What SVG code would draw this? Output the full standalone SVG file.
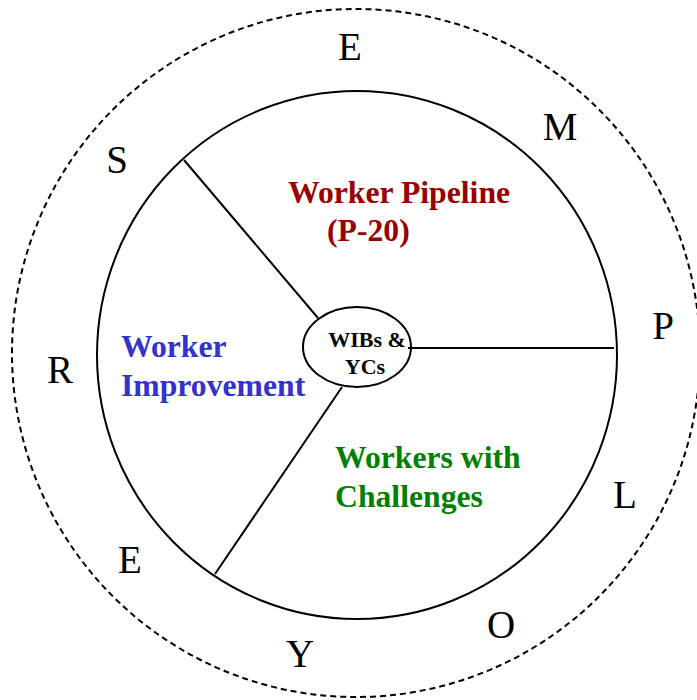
<svg xmlns="http://www.w3.org/2000/svg" width="697" height="700" viewBox="0 0 697 700">
  <style>
    .ring { fill: none; stroke: #000; stroke-width: 2; }
    .dash { fill: none; stroke: #000; stroke-width: 2; stroke-dasharray: 6 4; }
    .spoke { stroke: #000; stroke-width: 2; fill: none; }
    .letter { font-family: "Liberation Serif", "Times New Roman", serif; font-size: 39px; fill: #000; text-anchor: middle; }
    .sector { font-family: "Liberation Serif", "Times New Roman", serif; font-size: 31.7px; font-weight: bold; }
    .hub { font-family: "Liberation Serif", "Times New Roman", serif; font-size: 22px; font-weight: bold; fill: #000; text-anchor: middle; }
  </style>
  <rect width="697" height="700" fill="#fff"/>

  <!-- outer dashed boundary -->
  <g id="outer-ring">
    <circle class="dash" cx="356" cy="353" r="344"/>
  </g>

  <!-- inner circle -->
  <g id="inner-ring">
    <ellipse class="ring" cx="357" cy="355" rx="260" ry="264"/>
  </g>

  <!-- spokes dividing the inner circle -->
  <g id="connectors">
    <line class="spoke" x1="184" y1="160" x2="318" y2="318"/>
    <line class="spoke" x1="408" y1="348" x2="614" y2="348"/>
    <line class="spoke" x1="342" y1="387" x2="215" y2="574"/>
  </g>

  <!-- hub -->
  <g id="hub">
    <ellipse class="ring" cx="357" cy="347" rx="54" ry="40" fill="#fff"/>
    <text class="hub" x="367" y="347">WIBs &amp;</text>
    <text class="hub" x="365" y="374">YCs</text>
  </g>

  <!-- sectors -->
  <g id="worker-pipeline">
    <text class="sector" x="288" y="203" fill="#990000">Worker Pipeline</text>
    <text class="sector" x="327" y="241" fill="#990000">(P-20)</text>
  </g>
  <g id="worker-improvement">
    <text class="sector" x="121" y="357" fill="#3333CC">Worker</text>
    <text class="sector" x="121" y="396" fill="#3333CC">Improvement</text>
  </g>
  <g id="workers-with-challenges">
    <text class="sector" x="335" y="468" fill="#008000">Workers with</text>
    <text class="sector" x="335" y="507" fill="#008000">Challenges</text>
  </g>

  <!-- EMPLOYERS around the ring -->
  <g id="employers">
    <text class="letter" x="350" y="60">E</text>
    <text class="letter" x="560" y="140">M</text>
    <text class="letter" x="663" y="339">P</text>
    <text class="letter" x="625" y="508">L</text>
    <text class="letter" x="501" y="638">O</text>
    <text class="letter" x="300" y="667">Y</text>
    <text class="letter" x="130" y="573">E</text>
    <text class="letter" x="60" y="383">R</text>
    <text class="letter" x="117" y="173">S</text>
  </g>
</svg>
